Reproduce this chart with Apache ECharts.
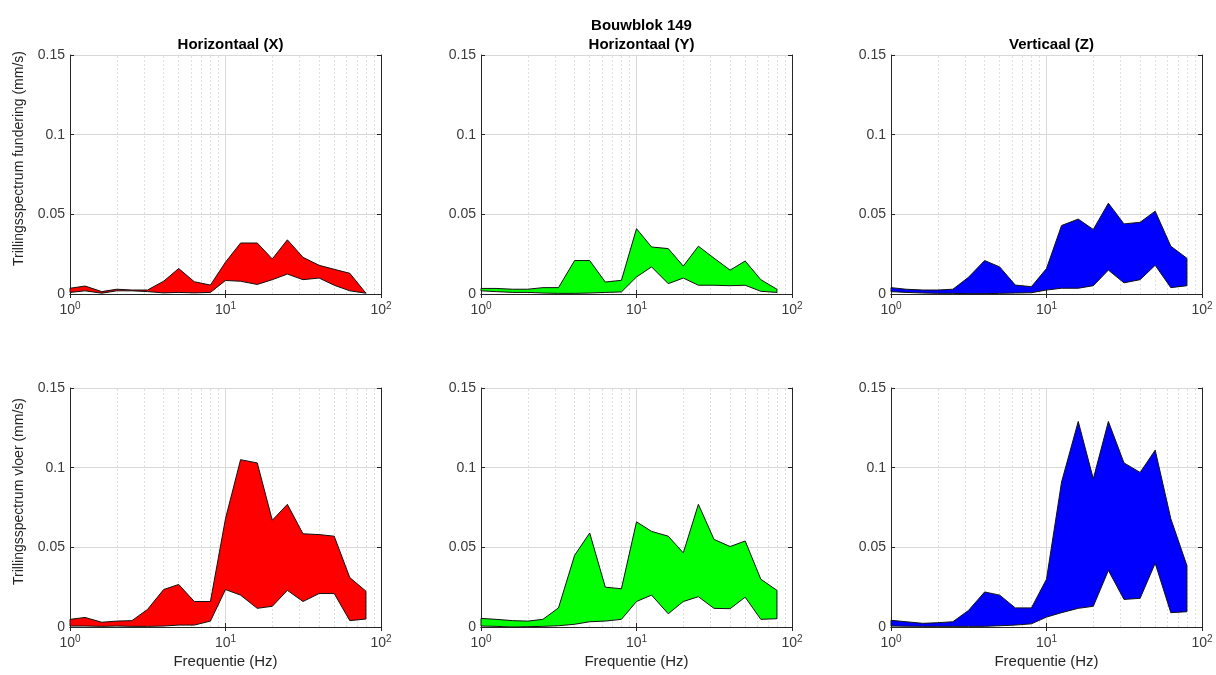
<!DOCTYPE html>
<html>
<head>
<meta charset="utf-8">
<title>Bouwblok 149</title>
<script src="https://cdn.jsdelivr.net/npm/echarts@6/dist/echarts.min.js"></script>
<style>
  html, body { margin: 0; padding: 0; background: #fff; }
  #chart { width: 1216px; height: 675px; }
</style>
</head>
<body>
<div id="chart"></div>
<script>
// 1/3-octave band centre frequencies (Hz)
const freq = [1, 1.25, 1.6, 2, 2.5, 3.15, 4, 5, 6.3, 8, 10, 12.5, 16, 20, 25, 31.5, 40, 50, 63, 80];

// fundering (foundation), upper and lower envelope, mm/s
const funXHigh = [0.0036, 0.005, 0.0015, 0.003, 0.0025, 0.0025, 0.008, 0.016, 0.0077, 0.0056, 0.020, 0.032, 0.032, 0.022, 0.034, 0.023, 0.018, 0.0155, 0.013, 0.0005];
const funXLow  = [0.001, 0.002, 0.0005, 0.002, 0.002, 0.0015, 0.0007, 0.001, 0.0007, 0.001, 0.0085, 0.008, 0.006, 0.009, 0.0125, 0.009, 0.010, 0.0055, 0.002, 0.0005];
const funYHigh = [0.0035, 0.0035, 0.003, 0.003, 0.004, 0.004, 0.021, 0.021, 0.0075, 0.0086, 0.041, 0.0295, 0.0285, 0.0175, 0.030, 0.0225, 0.015, 0.0207, 0.009, 0.003];
const funYLow  = [0.002, 0.0015, 0.001, 0.001, 0.0006, 0.0004, 0.0004, 0.0006, 0.001, 0.0013, 0.0107, 0.017, 0.0065, 0.010, 0.0055, 0.0055, 0.0052, 0.0055, 0.0017, 0.001];
const funZHigh = [0.004, 0.003, 0.0025, 0.0025, 0.003, 0.0105, 0.021, 0.017, 0.0056, 0.0046, 0.016, 0.043, 0.047, 0.0405, 0.057, 0.044, 0.045, 0.052, 0.030, 0.0224];
const funZLow  = [0.0015, 0.001, 0.0006, 0.0004, 0.0004, 0.0002, 0.0002, 0.0004, 0.0006, 0.0008, 0.0025, 0.0036, 0.0036, 0.0052, 0.015, 0.007, 0.009, 0.018, 0.004, 0.0052];

// vloer (floor)
const vloXHigh = [0.0048, 0.006, 0.003, 0.0037, 0.004, 0.011, 0.0235, 0.0267, 0.016, 0.016, 0.068, 0.105, 0.103, 0.067, 0.077, 0.0585, 0.058, 0.057, 0.031, 0.0225];
const vloXLow  = [0.0006, 0.0006, 0.0004, 0.0006, 0.0004, 0.0004, 0.0006, 0.0012, 0.0012, 0.0037, 0.0235, 0.020, 0.0117, 0.013, 0.023, 0.016, 0.021, 0.021, 0.004, 0.005];
const vloYHigh = [0.0054, 0.0048, 0.004, 0.0037, 0.0048, 0.012, 0.045, 0.059, 0.025, 0.024, 0.066, 0.060, 0.057, 0.0465, 0.077, 0.055, 0.0505, 0.054, 0.030, 0.023];
const vloYLow  = [0.0006, 0.0004, 0.0, 0.0002, 0.0004, 0.0008, 0.0017, 0.0033, 0.0037, 0.0048, 0.016, 0.020, 0.0083, 0.016, 0.019, 0.0117, 0.0115, 0.0187, 0.0048, 0.0052];
const vloZHigh = [0.0042, 0.0033, 0.0023, 0.0027, 0.0033, 0.0104, 0.022, 0.020, 0.012, 0.012, 0.030, 0.091, 0.129, 0.093, 0.129, 0.103, 0.097, 0.111, 0.068, 0.0385];
const vloZLow  = [0.0006, 0.0005, 0.0004, 0.0004, 0.0004, 0.0004, 0.0004, 0.0008, 0.0012, 0.002, 0.0062, 0.009, 0.0117, 0.013, 0.0355, 0.0173, 0.018, 0.040, 0.009, 0.0096];

const columnTitles = ['Horizontaal (X)', 'Horizontaal (Y)', 'Verticaal (Z)'];
const rowNames = ['Trillingsspectrum fundering (mm/s)', 'Trillingsspectrum vloer (mm/s)'];
const xName = 'Frequentie (Hz)';
const minorGrid = [2, 3, 4, 5, 6, 7, 8, 9, 20, 30, 40, 50, 60, 70, 80, 90];

const colors = ['#ff0000', '#00ff00', '#0000ff'];
const highs = [[funXHigh, funYHigh, funZHigh], [vloXHigh, vloYHigh, vloZHigh]];
const lows  = [[funXLow, funYLow, funZLow], [vloXLow, vloYLow, vloZLow]];

const lefts = [70, 481, 891];
const tops = [55, 388];
const W = 311, H = 239;
const axisColor = '#262626';
const tickColor = '#3a3a3a';
const font = 'Liberation Sans, Arial, Helvetica, sans-serif';

const grids = [], xAxes = [], yAxes = [], series = [];
let g = 0;
for (let r = 0; r < 2; r++) {
  for (let c = 0; c < 3; c++) {
    grids.push({ left: lefts[c], top: tops[r], width: W, height: H, containLabel: false });
    // bottom log axis
    xAxes.push({
      gridIndex: g, type: 'log', logBase: 10, min: 1, max: 100,
      name: r === 1 ? xName : '', nameLocation: 'middle', nameGap: 27,
      nameTextStyle: { fontFamily: font, fontSize: 15, color: axisColor },
      axisLine: { lineStyle: { color: axisColor, width: 1 } },
      axisTick: { inside: true, length: 4, lineStyle: { color: axisColor } },
      splitLine: { show: true, lineStyle: { color: '#d8d8d8', width: 1 } },
      axisLabel: {
        color: tickColor, margin: 7,
        formatter: v => '{b|10}{s|' + Math.round(Math.log10(v)) + '}',
        rich: {
          b: { fontSize: 14, fontFamily: font, color: tickColor },
          s: { fontSize: 10, fontFamily: font, color: tickColor, padding: [0, 0, 9, 0] }
        }
      }
    });
    // top mirror axis
    xAxes.push({
      gridIndex: g, type: 'log', logBase: 10, min: 1, max: 100, position: 'top',
      axisLine: { lineStyle: { color: axisColor, width: 1 } },
      axisTick: { inside: true, length: 4, lineStyle: { color: axisColor } },
      axisLabel: { show: false }, splitLine: { show: false }
    });
    yAxes.push({
      gridIndex: g, type: 'value', min: 0, max: 0.15, interval: 0.05,
      axisLine: { show: true, lineStyle: { color: axisColor, width: 1 } },
      axisTick: { show: true, inside: true, length: 4, lineStyle: { color: axisColor } },
      splitLine: { show: true, lineStyle: { color: '#d8d8d8', width: 1 } },
      axisLabel: { fontFamily: font, fontSize: 14, color: tickColor, margin: 5 }
    });
    yAxes.push({
      gridIndex: g, type: 'value', min: 0, max: 0.15, interval: 0.05, position: 'right',
      axisLine: { show: true, lineStyle: { color: axisColor, width: 1 } },
      axisTick: { show: true, inside: true, length: 4, lineStyle: { color: axisColor } },
      axisLabel: { show: false }, splitLine: { show: false }
    });

    const xi = g * 2, yi = g * 2;
    // dotted minor grid for the log axis, kept under the filled bands
    series.push({
      type: 'line', xAxisIndex: xi, yAxisIndex: yi, data: [[1, 0]],
      showSymbol: false, lineStyle: { width: 0 }, silent: true, z: 1,
      markLine: {
        z: 1, silent: true, symbol: 'none', label: { show: false },
        lineStyle: { color: '#e0e0e0', type: [2, 2], width: 1 },
        data: minorGrid.map(v => ({ xAxis: v }))
      }
    });

    const hi = highs[r][c], lo = lows[r][c], col = colors[c];
    series.push({
      type: 'custom', xAxisIndex: xi, yAxisIndex: yi, z: 10,
      data: freq.map((f, i) => [f, hi[i]]),
      encode: { x: 0, y: 1 },
      renderItem: function (params, api) {
        if (params.dataIndex !== 0) return null;
        const pts = [];
        for (let i = 0; i < freq.length; i++) pts.push(api.coord([freq[i], hi[i]]));
        for (let i = freq.length - 1; i >= 0; i--) pts.push(api.coord([freq[i], lo[i]]));
        return {
          type: 'polygon', shape: { points: pts },
          style: { fill: col, stroke: '#111', lineWidth: 1 }
        };
      }
    });
    g++;
  }
}

const titleStyle = { fontFamily: font, fontSize: 15, fontWeight: 'bold', color: '#000' };
const titles = [
  { text: 'Bouwblok 149', left: lefts[1] + W / 2, top: 13, textAlign: 'center', textStyle: titleStyle }
];
for (let c = 0; c < 3; c++) {
  titles.push({ text: columnTitles[c], left: lefts[c] + W / 2, top: 32, textAlign: 'center', textStyle: titleStyle });
}

// row labels, set a little above the axes centre as in the original
const graphics = rowNames.map((t, r) => ({
  type: 'text', x: 19, y: tops[r] + H / 2 - 16, rotation: Math.PI / 2,
  style: { text: t, fontFamily: font, fontSize: 14, fill: axisColor, align: 'center', verticalAlign: 'middle' }
}));

const chart = echarts.init(document.getElementById('chart'));
chart.setOption({
  backgroundColor: '#fff',
  animation: false,
  title: titles,
  grid: grids,
  xAxis: xAxes,
  yAxis: yAxes,
  graphic: graphics,
  series: series
});
</script>
</body>
</html>
